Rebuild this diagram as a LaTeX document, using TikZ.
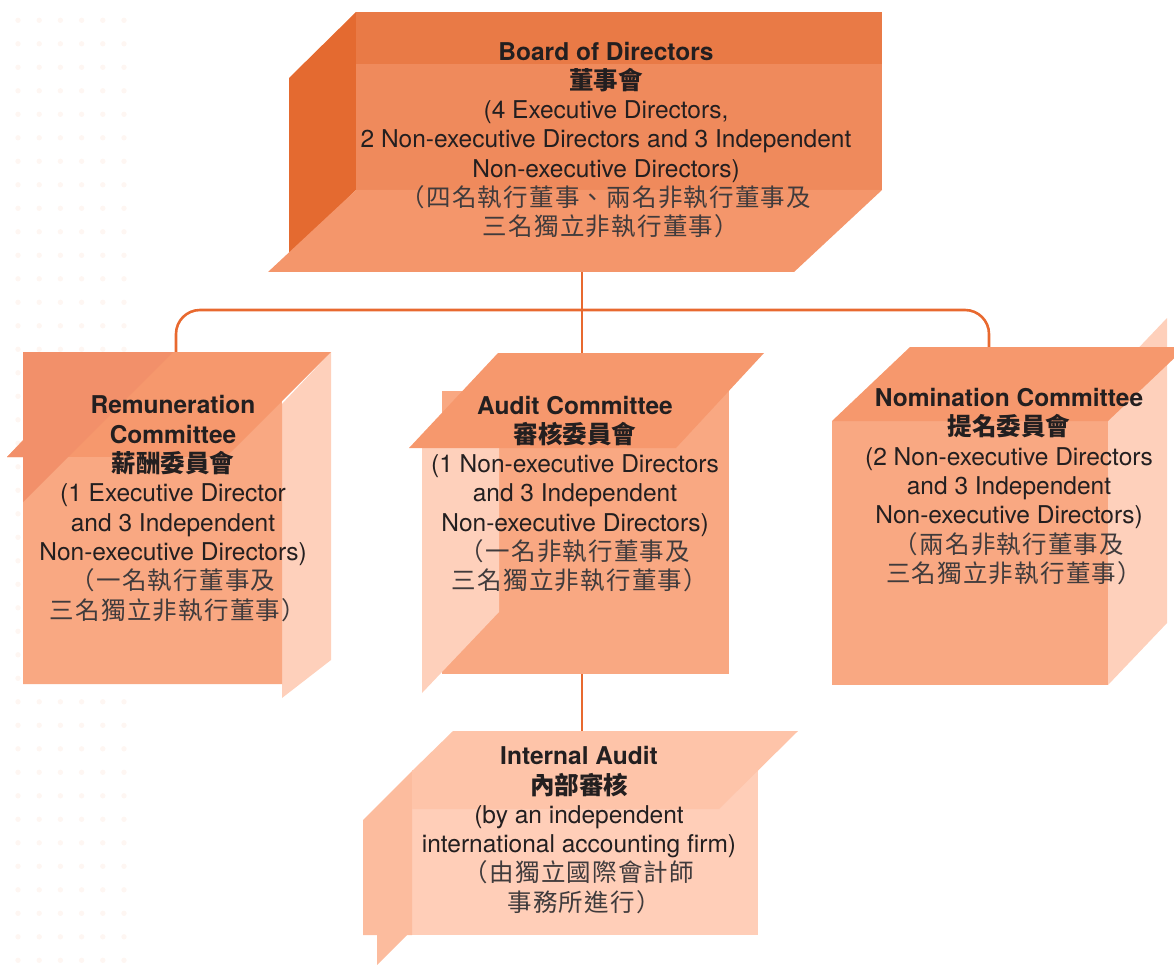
\documentclass[tikz,border=0pt]{standalone}
\usepackage{fontspec}
\setmainfont{TeX Gyre Heros}
\newfontfamily\cjk[LetterSpace=5]{Noto Sans CJK TC}
\newfontfamily\cjkb{Noto Sans CJK TC}
\definecolor{bandc}{HTML}{E97A46}
\definecolor{frontc}{HTML}{EF8A5C}
\definecolor{leftc}{HTML}{E46A30}
\definecolor{floorc}{HTML}{F4966B}
\definecolor{rectc}{HTML}{F9A882}
\definecolor{panelc}{HTML}{FED0BB}
\definecolor{topc}{HTML}{F6986D}
\definecolor{darkc}{HTML}{F2906A}
\definecolor{linec}{HTML}{E8692F}
\definecolor{txtc}{HTML}{231F20}
\definecolor{cjkc}{HTML}{403B3C}
\definecolor{dotc}{HTML}{FEF6F2}
\definecolor{ilight}{HTML}{FFCEB8}
\definecolor{imid}{HTML}{FEC4A9}
\definecolor{idark}{HTML}{FCBC9E}
\newcommand{\zh}[1]{{\cjk\color{cjkc}#1}}
\newcommand{\zhr}[1]{{\hspace*{10pt}\cjk\color{cjkc}#1}}
\newcommand{\zhb}[1]{{\cjkb\bfseries #1}}
\begin{document}
\begin{tikzpicture}[x=1pt,y=-1pt,
  conn/.style={draw=linec,line width=2.6pt},
  label/.style={text=txtc,align=center,inner sep=0pt,
    font=\fontsize{24.5}{29.3}\selectfont}]
\useasboundingbox (0,0) rectangle (1174,965);
% background dots
\foreach \i in {0,...,5}
  \foreach \j in {0,...,41}
    \fill[dotc] (18+21.2*\i,-3.2+23.5*\j) circle (2.7pt);
% connector anchors
\coordinate (board-s) at (582,272);
\coordinate (audit-n) at (582,353);
\coordinate (branch) at (582,310);
\coordinate (rem-n) at (176,352);
\coordinate (nom-n) at (989,347);
\coordinate (audit-s) at (582,674);
\coordinate (int-n) at (582,731);
\draw[conn] (board-s) -- (audit-n);
\draw[conn,rounded corners=24pt] (rem-n) |- (branch) -| (nom-n);
\draw[conn] (audit-s) -- (int-n);
% Board box
\fill[leftc] (289,78) -- (356,12) -- (356,190) -- (289,256) -- cycle;
\fill[frontc] (356,64) rectangle (882,190);
\fill[bandc] (356,12) rectangle (882,64);
\fill[floorc] (268,272) -- (356,190) -- (882,190) -- (794,272) -- cycle;
% Remuneration box
\fill[rectc] (23,352) rectangle (282,684);
\fill[panelc] (282,404) -- (331,352) -- (331,660) -- (282,698) -- cycle;
\fill[topc] (7,457) -- (106,352) -- (331,352) -- (226,457) -- cycle;
\fill[rectc] (23,457) -- (226,457) -- (282,404) -- (282,684) -- (23,684) -- cycle;
\fill[darkc] (23,352) -- (173,352) -- (23,502) -- cycle;
\fill[darkc] (7,457) -- (23,441) -- (23,457) -- cycle;
% Audit box
\fill[rectc] (442,391) rectangle (729,674);
\fill[panelc] (422,448) -- (499,367) -- (499,612) -- (422,693) -- cycle;
\fill[topc] (409,448) -- (498,353) -- (764,353) -- (676,448) -- cycle;
% Nomination box
\fill[rectc] (832,421) rectangle (1108,685);
\fill[panelc] (1108,380) -- (1167,318) -- (1167,623) -- (1108,685) -- cycle;
\fill[topc] (832,421) -- (910,347) -- (1186,347) -- (1108,421) -- cycle;
% Internal audit box
\fill[ilight] (412,770) rectangle (758,935);
\fill[idark] (363,820) -- (412,771) -- (412,935) -- (363,935) -- cycle;
\fill[idark] (377,935) -- (407,935) -- (377,965) -- cycle;
\fill[imid] (412,771) -- (453,731) -- (798,731) -- (719,809) -- (412,809) -- cycle;
% texts
\node[label] (board) at (606,140) {\textbf{Board of Directors}\\
  \zhb{董事會}\\
  (4 Executive Directors,\\
  2 Non-executive Directors and 3 Independent\\
  Non-executive Directors)\\
  \zh{（四名執行董事、兩名非執行董事及}\\
  \zhr{三名獨立非執行董事）}};
\node[label] (rem) at (173,508.5) {\textbf{Remuneration}\\
  \textbf{Committee}\\
  \zhb{薪酬委員會}\\
  (1 Executive Director\\
  and 3 Independent\\
  Non-executive Directors)\\
  \zh{（一名執行董事及}\\
  \zhr{三名獨立非執行董事）}};
\node[label] (audit) at (575,494) {\textbf{Audit Committee}\\
  \zhb{審核委員會}\\
  (1 Non-executive Directors\\
  and 3 Independent\\
  Non-executive Directors)\\
  \zh{（一名非執行董事及}\\
  \zhr{三名獨立非執行董事）}};
\node[label] (nom) at (1009,486.5) {\textbf{Nomination Committee}\\
  \zhb{提名委員會}\\
  (2 Non-executive Directors\\
  and 3 Independent\\
  Non-executive Directors)\\
  \zh{（兩名非執行董事及}\\
  \zhr{三名獨立非執行董事）}};
\node[label] (internal) at (579,830) {\textbf{Internal Audit}\\
  \zhb{內部審核}\\
  (by an independent\\
  international accounting firm)\\
  \zh{（由獨立國際會計師}\\
  \zhr{事務所進行）}};
\end{tikzpicture}
\end{document}
